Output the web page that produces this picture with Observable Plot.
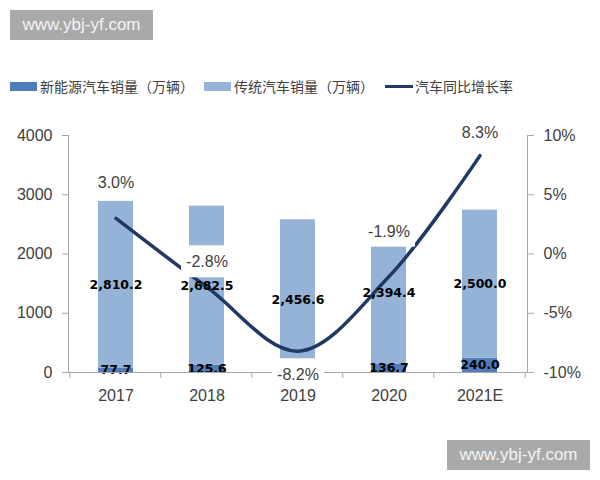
<!DOCTYPE html>
<html><head><meta charset="utf-8">
<script src="https://cdn.jsdelivr.net/npm/d3@7"></script>
<script src="https://cdn.jsdelivr.net/npm/@observablehq/plot@0.6"></script>
<style>
html,body{margin:0;padding:0;background:#fff;width:600px;height:480px;overflow:hidden;position:relative;}
.wm{position:absolute;background:#a9a9a9;color:#f4f4f4;font:17px "Liberation Sans",Arial,sans-serif;width:143px;height:30px;line-height:30px;text-align:center;}
#legend{position:absolute;top:76px;left:0;width:600px;height:20px;font:14px "Noto Sans CJK SC",sans-serif;color:#404040;}
.li{position:absolute;top:0;height:20px;display:flex;align-items:center;white-space:nowrap;}
#chart{position:absolute;left:0;top:110px;}
</style></head><body>
<div class="wm" style="left:10px;top:10px">www.ybj-yf.com</div>
<div id="legend"></div>
<div id="chart"></div>
<div class="wm" style="left:447px;top:440px">www.ybj-yf.com</div>
<script>
// ---- data ----
const years = ["2017", "2018", "2019", "2020", "2021E"];
const nevSales = [77.7, 125.6, 120.6, 136.7, 240.0];
const iceSales = [2810.2, 2682.5, 2456.6, 2394.4, 2500.0];
const growthRate = [3.0, -2.8, -8.2, -1.9, 8.3];
const seriesNames = ["新能源汽车销量（万辆）", "传统汽车销量（万辆）"];
const lineName = "汽车同比增长率";
const salesTicks = [0, 1000, 2000, 3000, 4000];
const rateTicks = [-10, -5, 0, 5, 10];
// the original hides this value label under the "-8.2%" label box
const hiddenNevLabelYears = ["2019"];

// ---- styles / layout ----
const barColors = ["#4F7CBA", "#95B3D7"];
const lineColor = "#1F3864";
const axisColor = "#a6a6a6";
const textColor = "#404040";
const rateLabelDy = {"2017": -36, "2018": -25, "2019": 24, "2020": -45, "2021E": -23};

// legend
const legend = document.getElementById("legend");
const legendLeft = [10, 204, 385];
seriesNames.forEach((name, i) => {
  const it = document.createElement("div");
  it.className = "li"; it.style.left = legendLeft[i] + "px";
  it.innerHTML = `<span style="display:inline-block;width:27px;height:9px;background:${barColors[i]};margin-right:3px"></span><span>${name}</span>`;
  legend.append(it);
});
{
  const it = document.createElement("div");
  it.className = "li"; it.style.left = legendLeft[2] + "px";
  it.innerHTML = `<span style="display:inline-block;width:28px;height:3px;background:${lineColor};margin-right:2px"></span><span>${lineName}</span>`;
  legend.append(it);
}

// tables
const rows = [];
years.forEach((yr, i) => {
  rows.push({year: yr, series: seriesNames[0], value: nevSales[i]});
  rows.push({year: yr, series: seriesNames[1], value: iceSales[i]});
});
const rateRows = years.map((yr, i) => ({year: yr, rate: growthRate[i]}));
const rateToSales = d3.scaleLinear([-10, 10], [0, 4000]);
const fmtSales = d3.format(",.1f");
const numFont = "Liberation Sans, Arial, sans-serif";
const showLabel = d => !(d.series === seriesNames[0] && hiddenNevLabelYears.includes(d.year));

const plot = Plot.plot({
  width: 600, height: 300,
  marginTop: 25, marginBottom: 38, marginLeft: 68, marginRight: 73,
  style: {fontFamily: numFont, background: "white"},
  x: {domain: years, paddingInner: 0.62, paddingOuter: 0.31},
  y: {domain: [0, 4000], nice: false},
  color: {domain: seriesNames, range: barColors},
  marks: [
    Plot.barY(rows, {x: "year", y: "value", fill: "series"}),
    Plot.line(rateRows, {x: "year", y: d => rateToSales(d.rate), stroke: lineColor, strokeWidth: 3.5, curve: "catmull-rom"}),
    Plot.text(rows, Plot.stackY({x: "year", y: "value", z: "series", filter: showLabel, text: d => fmtSales(d.value),
      fontWeight: "bold", fontSize: 12.5, fill: "#000", fontFamily: "DejaVu Sans, sans-serif"})),
    Plot.frame({anchor: "left", stroke: axisColor}),
    Plot.frame({anchor: "right", stroke: axisColor}),
    Plot.frame({anchor: "bottom", stroke: axisColor}),
    Plot.axisY({anchor: "left", ticks: salesTicks, tickSize: 6, tickPadding: 10, fontSize: 16,
      stroke: axisColor, fill: textColor, label: null, tickFormat: d => String(d)}),
    Plot.axisY({anchor: "right", ticks: rateTicks.map(r => rateToSales(r)), tickSize: 6, tickPadding: 10, fontSize: 16,
      stroke: axisColor, fill: textColor, label: null, tickFormat: d => Math.round(rateToSales.invert(d)) + "%"}),
    ...years.map(yr => Plot.text(rateRows.filter(d => d.year === yr), {
      x: "year", y: d => rateToSales(d.rate), text: d => d.rate.toFixed(1) + "%",
      dy: rateLabelDy[yr], fontSize: 16, fill: textColor, ariaDescription: "rate-label"})),
    Plot.axisX({tickSize: 0, tickPadding: 17, fontSize: 16, fill: textColor, label: null})
  ]
});
document.getElementById("chart").append(plot);

const NS = "http://www.w3.org/2000/svg";
const labelGroups = [...plot.querySelectorAll("g")].filter(g => g.getAttribute("aria-description") === "rate-label");
const firstLabel = labelGroups[0];

// category-boundary tick marks on the x axis, from Plot's own scales
const xs = plot.scale("x"), ys = plot.scale("y");
const half = xs.step * xs.paddingInner / 2;
const bounds = xs.domain.map(d => xs.apply(d) - half);
bounds.push(xs.apply(xs.domain[xs.domain.length - 1]) + xs.bandwidth + half);
const y0 = ys.apply(0);
const tg = document.createElementNS(NS, "g");
bounds.forEach(bx => {
  const l = document.createElementNS(NS, "line");
  l.setAttribute("x1", bx); l.setAttribute("x2", bx);
  l.setAttribute("y1", y0); l.setAttribute("y2", y0 + 6);
  l.setAttribute("stroke", axisColor);
  tg.append(l);
});
firstLabel.parentNode.insertBefore(tg, firstLabel);

// white boxes behind the growth-rate labels (as in the Excel original)
const svgRect = plot.getBoundingClientRect();
const bg = document.createElementNS(NS, "g");
labelGroups.forEach(g => g.querySelectorAll("text").forEach(t => {
  const b = t.getBoundingClientRect();
  const r = document.createElementNS(NS, "rect");
  r.setAttribute("x", b.left - svgRect.left - 5);
  r.setAttribute("y", b.top - svgRect.top - 8);
  r.setAttribute("width", b.width + 10);
  r.setAttribute("height", b.height + 15);
  r.setAttribute("fill", "white");
  bg.append(r);
}));
firstLabel.parentNode.insertBefore(bg, firstLabel);
</script>
</body></html>
